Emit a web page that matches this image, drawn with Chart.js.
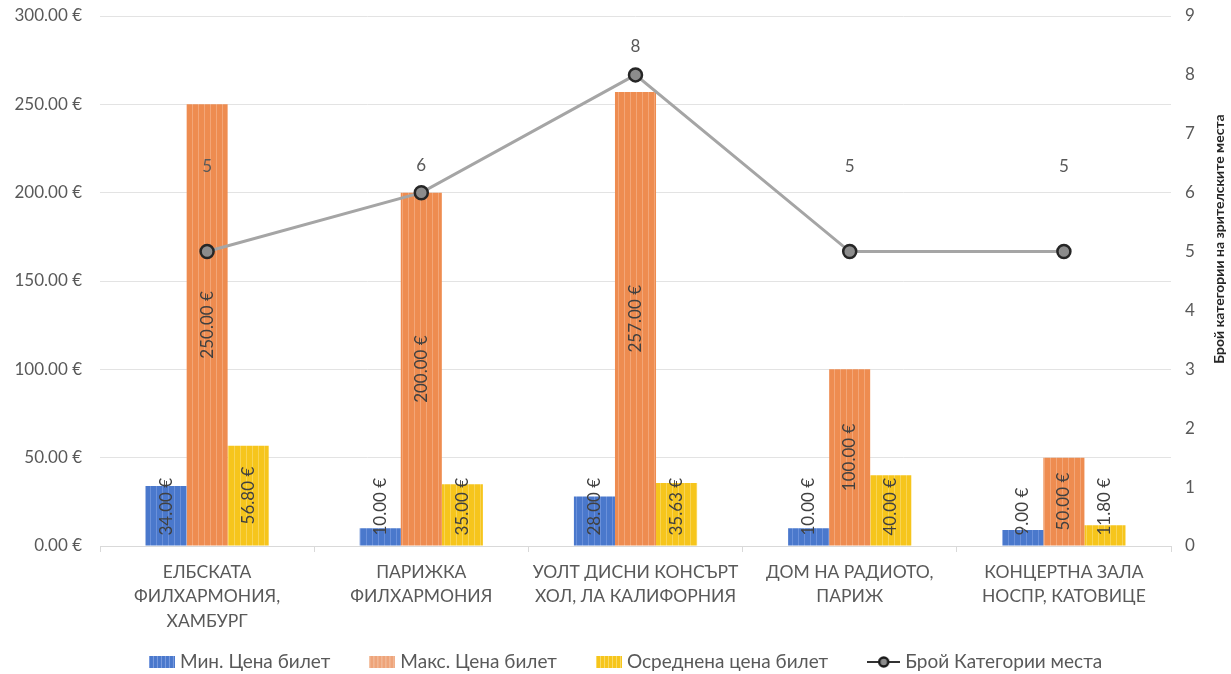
<!DOCTYPE html>
<html>
<head>
<meta charset="utf-8">
<script src="https://cdn.jsdelivr.net/npm/chart.js@4/dist/chart.umd.min.js"></script>
<style>
  html, body { margin: 0; padding: 0; background: #fff; }
  #wrap { width: 1231px; height: 674px; }
</style>
</head>
<body>
<div id="wrap"><canvas id="chart"></canvas></div>
<script>
var venues = [
    ["ЕЛБСКАТА", "ФИЛХАРМОНИЯ,", "ХАМБУРГ"],
    ["ПАРИЖКА", "ФИЛХАРМОНИЯ"],
    ["УОЛТ ДИСНИ КОНСЪРТ", "ХОЛ, ЛА КАЛИФОРНИЯ"],
    ["ДОМ НА РАДИОТО,", "ПАРИЖ"],
    ["КОНЦЕРТНА ЗАЛА", "НОСПР, КАТОВИЦЕ"]
];
var minPrice = [34, 10, 28, 10, 9];
var maxPrice = [250, 200, 257, 100, 50];
var avgPrice = [56.8, 35, 35.63, 40, 11.8];
var seatCategories = [5, 6, 8, 5, 5];
var seriesNames = ["Мин. Цена билет", "Макс. Цена билет", "Осреднена цена билет", "Брой Категории места"];
var rightTitle = "Брой категории на зрителските места";

// how far (px) each line label sits above its point, as placed in the original
var pointLabelLift = [85, 27, 28, 85, 85];

var FONT = "Lato, 'Open Sans', sans-serif";
var ctx = document.getElementById("chart").getContext("2d");

function euro(v) {
    return Number(v).toFixed(2) + " €";
}

// bars have a faint vertical stripe texture
function stripes(base, light) {
    var c = document.createElement("canvas");
    c.width = 6; c.height = 6;
    var g = c.getContext("2d");
    g.fillStyle = base; g.fillRect(0, 0, 6, 6);
    g.fillStyle = light; g.fillRect(0, 0, 1, 6);
    return ctx.createPattern(c, "repeat");
}

function legendBox(base, light) {
    var c = document.createElement("canvas");
    c.width = 26; c.height = 12;
    var g = c.getContext("2d");
    g.fillStyle = base; g.fillRect(0, 0, 26, 12);
    g.fillStyle = light;
    for (var x = 0; x < 26; x += 4) g.fillRect(x, 0, 1, 12);
    return c;
}

function legendLine() {
    var c = document.createElement("canvas");
    c.width = 33; c.height = 14;
    var g = c.getContext("2d");
    g.strokeStyle = "#333333"; g.lineWidth = 2;
    g.beginPath(); g.moveTo(0, 7); g.lineTo(33, 7); g.stroke();
    g.fillStyle = "#8C8C8C";
    g.beginPath(); g.arc(16.5, 7, 4.5, 0, Math.PI * 2); g.fill();
    g.strokeStyle = "#1A1A1A"; g.lineWidth = 2.5; g.stroke();
    return c;
}

var legendIcons = [
    legendBox("#4A78CC", "#7C9DE0"),
    legendBox("#EEA47A", "#F4C3A5"),
    legendBox("#F6C51C", "#F9DA66"),
    legendLine()
];

var valueLabels = {
    id: "valueLabels",
    afterDatasetsDraw: function(chart) {
        var c = chart.ctx;
        c.save();
        chart.data.datasets.forEach(function(ds, i) {
            var meta = chart.getDatasetMeta(i);
            meta.data.forEach(function(el, j) {
                var v = ds.data[j];
                if (ds.type === "line") {
                    c.font = "17px " + FONT;
                    c.fillStyle = "#595959";
                    c.textAlign = "center";
                    c.textBaseline = "middle";
                    c.fillText(String(v), el.x, el.y - pointLabelLift[j]);
                } else {
                    c.font = "17px " + FONT;
                    c.fillStyle = "#404040";
                    var text = euro(v);
                    var w = c.measureText(text).width;
                    var mid = (el.y + el.base) / 2;
                    var bottom = Math.min(mid + w / 2, el.base - 10);
                    c.save();
                    c.translate(el.x, bottom);
                    c.rotate(-Math.PI / 2);
                    c.textAlign = "left";
                    c.textBaseline = "middle";
                    c.fillText(text, 0, 0);
                    c.restore();
                }
            });
        });
        // right axis title, reading bottom to top
        c.font = "bold 14px " + FONT;
        c.fillStyle = "#262626";
        c.translate(1219, 239);
        c.rotate(-Math.PI / 2);
        c.textAlign = "center";
        c.textBaseline = "middle";
        c.fillText(rightTitle, 0, 0);
        c.restore();
    }
};

// legend drawn in the strip kept free by layout.padding.bottom
var bottomLegend = {
    id: "bottomLegend",
    afterDraw: function(chart) {
        var c = chart.ctx;
        c.save();
        c.font = "19px " + FONT;
        c.textBaseline = "middle";
        c.fillStyle = "#595959";
        var gap = 5, spacing = 39;
        var items = seriesNames.map(function(name, i) {
            return { text: name, icon: legendIcons[i], w: c.measureText(name).width };
        });
        var total = 0;
        items.forEach(function(it, i) {
            total += it.icon.width + gap + it.w + (i ? spacing : 0);
        });
        var x = chart.width / 2 + 10 - total / 2;
        var y = chart.height - 12;
        items.forEach(function(it) {
            c.drawImage(it.icon, x, Math.round(y - it.icon.height / 2));
            x += it.icon.width + gap;
            c.fillText(it.text, x, y);
            x += it.w + spacing;
        });
        c.restore();
    }
};

var chart = new Chart(ctx, {
    type: "bar",
    data: {
        labels: venues,
        datasets: [
            {
                label: seriesNames[0],
                data: minPrice,
                backgroundColor: stripes("#4A78CC", "#6A90DA"),
                yAxisID: "y",
                order: 1
            },
            {
                label: seriesNames[1],
                data: maxPrice,
                backgroundColor: stripes("#EE8C50", "#F3A677"),
                yAxisID: "y",
                order: 1
            },
            {
                label: seriesNames[2],
                data: avgPrice,
                backgroundColor: stripes("#F6C51C", "#F8D455"),
                yAxisID: "y",
                order: 1
            },
            {
                type: "line",
                label: seriesNames[3],
                data: seatCategories,
                yAxisID: "y1",
                borderColor: "#A5A5A5",
                borderWidth: 3,
                tension: 0,
                pointRadius: 6.5,
                pointHoverRadius: 6.5,
                pointBackgroundColor: "#8C8C8C",
                pointBorderColor: "#262626",
                pointBorderWidth: 2.5,
                order: 0
            }
        ]
    },
    options: {
        responsive: true,
        maintainAspectRatio: false,
        animation: false,
        datasets: {
            bar: { categoryPercentage: 0.575, barPercentage: 1 }
        },
        layout: { padding: { top: 0, left: 0, right: 0, bottom: 38 } },
        plugins: {
            tooltip: { enabled: false },
            legend: { display: false }
        },
        scales: {
            x: {
                grid: { drawOnChartArea: false, drawTicks: true, tickLength: 6, color: "#D9D9D9" },
                border: { color: "#D9D9D9" },
                ticks: {
                    color: "#595959",
                    font: { size: 17.5, family: FONT, lineHeight: 1.4 },
                    maxRotation: 0,
                    autoSkip: false,
                    padding: 8
                },
                afterFit: function(s) { s.height = 90; }
            },
            y: {
                position: "left",
                min: 0,
                max: 300,
                ticks: {
                    stepSize: 50,
                    callback: function(v) { return euro(v); },
                    color: "#595959",
                    font: { size: 17, family: FONT },
                    padding: 18
                },
                grid: { color: "#E3E3E3", drawTicks: false },
                border: { display: false },
                afterFit: function(s) { s.width = 100; s.paddingTop = 16; s.paddingBottom = 10; }
            },
            y1: {
                position: "right",
                min: 0,
                max: 9,
                ticks: {
                    stepSize: 1,
                    color: "#595959",
                    font: { size: 17, family: FONT },
                    padding: 14
                },
                grid: { drawOnChartArea: false, drawTicks: false },
                border: { display: false },
                afterFit: function(s) { s.width = 60; s.paddingTop = 16; s.paddingBottom = 10; }
            }
        }
    },
    plugins: [valueLabels, bottomLegend]
});
</script>
</body>
</html>
